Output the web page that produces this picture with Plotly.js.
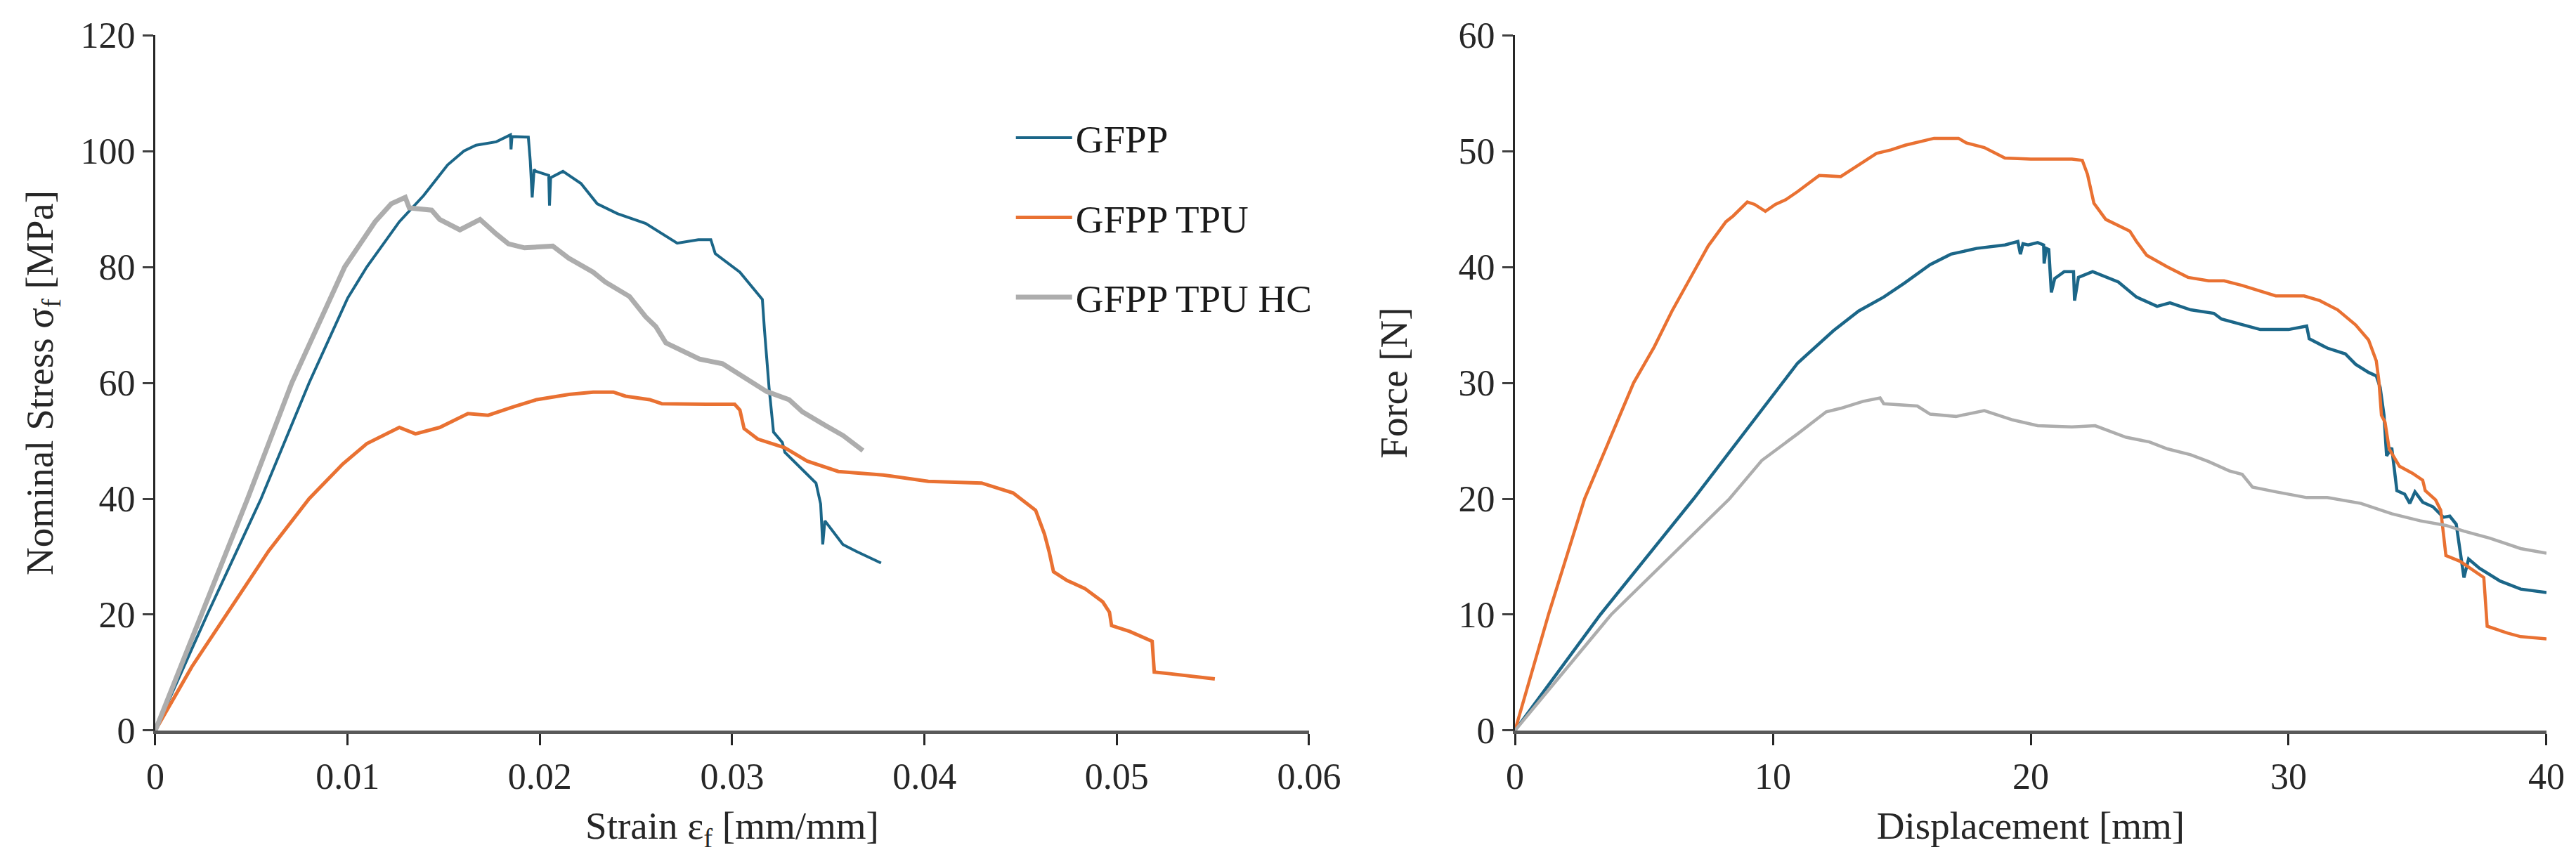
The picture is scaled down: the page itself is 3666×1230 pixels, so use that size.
<!DOCTYPE html>
<html>
<head>
<meta charset="utf-8">
<script src="https://cdn.plot.ly/plotly-3.0.1.min.js"></script>
<style>
  html, body { margin: 0; padding: 0; background: #fff; }
  #chart { width: 3666px; height: 1230px; }
</style>
</head>
<body>
<div id="chart"></div>
<script>
// left panel: nominal stress vs strain
var strainGFPP = [0, 0.0027, 0.0055, 0.0080, 0.0100, 0.0110, 0.01269, 0.01395, 0.0152, 0.01605, 0.01668, 0.01773, 0.01847, 0.0185, 0.01855, 0.0191, 0.0194, 0.0195, 0.0196, 0.0197, 0.0198, 0.02046, 0.0205, 0.02056, 0.0212, 0.02214, 0.02298, 0.02403, 0.0255, 0.02714, 0.02824, 0.02889, 0.02912, 0.0304, 0.0311, 0.03157, 0.03168, 0.03192, 0.03215, 0.03261, 0.03274, 0.03365, 0.03436, 0.0346, 0.03471, 0.03482, 0.03576, 0.03646, 0.03774];
var stressGFPP = [0, 20, 40, 60, 74.6, 80, 87.8, 92.3, 97.6, 100, 101, 101.6, 102.8, 100.3, 102.5, 102.4, 102.4, 98.3, 92, 96.8, 96.5, 95.8, 90.6, 95.4, 96.5, 94.4, 90.9, 89.2, 87.5, 84.1, 84.7, 84.7, 82.3, 79.1, 76.2, 74.4, 69.1, 59.1, 51.5, 49.7, 48, 45.1, 42.7, 39.1, 32.1, 36.2, 32.1, 30.9, 28.9];

var strainTPU = [0, 0.0019, 0.0037, 0.0059, 0.0080, 0.00975, 0.0110, 0.01185, 0.01269, 0.01353, 0.01479, 0.01626, 0.01731, 0.01857, 0.01983, 0.02151, 0.02277, 0.02382, 0.02445, 0.02571, 0.02634, 0.02866, 0.02971, 0.03013, 0.0304, 0.03062, 0.03133, 0.03273, 0.0339, 0.03552, 0.03785, 0.0402, 0.04297, 0.04461, 0.04578, 0.04624, 0.04648, 0.04671, 0.04741, 0.04834, 0.04927, 0.04962, 0.04973, 0.05067, 0.05184, 0.05195, 0.05276, 0.0551];
var stressTPU = [0, 11, 20, 31, 40, 46, 49.5, 50.9, 52.3, 51.2, 52.3, 54.7, 54.4, 55.8, 57.1, 58, 58.4, 58.4, 57.7, 57.1, 56.4, 56.3, 56.2, 56.3, 55.3, 52.1, 50.3, 48.8, 46.5, 44.7, 44.1, 43, 42.7, 41, 38, 33.9, 30.9, 27.4, 25.9, 24.5, 22.2, 20.4, 18.1, 17.1, 15.4, 10.1, 9.8, 8.9];

var strainHC = [0, 0.0024, 0.0048, 0.0071, 0.00985, 0.01143, 0.01227, 0.0130, 0.01321, 0.01437, 0.01479, 0.01584, 0.01689, 0.01773, 0.01836, 0.0192, 0.02067, 0.0215, 0.02277, 0.0234, 0.02466, 0.0255, 0.02603, 0.02655, 0.0275, 0.0283, 0.0295, 0.03087, 0.03179, 0.03296, 0.03365, 0.03482, 0.03577, 0.0368];
var stressHC = [0, 20, 40, 60, 80, 87.8, 90.9, 92, 90.2, 89.8, 88.2, 86.4, 88.2, 85.7, 84, 83.3, 83.6, 81.5, 79.1, 77.4, 74.9, 71.4, 69.7, 66.9, 65.3, 64.1, 63.3, 60.4, 58.5, 57.1, 55, 52.7, 50.9, 48.3];

// right panel: force vs displacement
var dispGFPP = [0, 3.31, 6.93, 10.4, 10.96, 12.35, 13.33, 14.3, 15.1, 16.1, 16.9, 17.9, 19.0, 19.5, 19.6, 19.7, 19.9, 20.27, 20.5, 20.52, 20.6, 20.7, 20.8, 20.93, 21.3, 21.66, 21.7, 21.85, 22.4, 23.4, 24.1, 24.9, 25.4, 26.2, 27.1, 27.4, 28.2, 28.9, 30.0, 30.7, 30.8, 31.5, 32.2, 32.6, 33.1, 33.4, 33.55, 33.7, 33.8, 34.0, 34.2, 34.5, 34.7, 34.9, 35.2, 35.6, 36.0, 36.25, 36.5, 36.65, 36.8, 36.98, 37.4, 38.2, 39.0, 40.0];
var forceGFPP = [0, 10, 20, 30, 31.7, 34.5, 36.2, 37.4, 38.6, 40.2, 41.1, 41.6, 41.9, 42.2, 41.1, 42.0, 41.9, 42.1, 41.9, 40.3, 41.6, 41.5, 37.8, 39.0, 39.6, 39.6, 37.1, 39.1, 39.6, 38.7, 37.4, 36.6, 36.9, 36.3, 36.0, 35.5, 35.0, 34.6, 34.6, 34.9, 33.8, 33.0, 32.5, 31.6, 30.9, 30.6, 29.6, 27.2, 23.7, 24.4, 20.7, 20.4, 19.6, 20.6, 19.7, 19.3, 18.4, 18.5, 17.8, 15.4, 13.2, 14.8, 14.0, 12.9, 12.2, 11.9];

var dispTPU = [0, 1.3, 2.7, 4.6, 5.4, 6.09, 6.79, 7.49, 8.18, 8.46, 9.01, 9.29, 9.71, 10.1, 10.5, 10.96, 11.8, 12.63, 13.19, 14.02, 14.58, 15.13, 16.25, 17.2, 17.5, 18.2, 19.0, 20.0, 21.6, 22.0, 22.2, 22.45, 22.91, 23.84, 24.1, 24.5, 25.3, 26.1, 26.9, 27.5, 28.2, 28.9, 29.5, 30.6, 31.2, 31.9, 32.6, 33.1, 33.4, 33.5, 33.6, 33.74, 33.9, 34.3, 34.8, 35.2, 35.3, 35.7, 35.9, 36.1, 36.65, 37.57, 37.7, 38.5, 39.0, 40.0];
var forceTPU = [0, 10, 20, 30, 33.1, 36.2, 39.0, 41.8, 43.9, 44.4, 45.6, 45.4, 44.8, 45.4, 45.8, 46.5, 47.9, 47.8, 48.6, 49.8, 50.1, 50.5, 51.1, 51.1, 50.7, 50.3, 49.4, 49.3, 49.3, 49.2, 48.0, 45.5, 44.1, 43.1, 42.2, 41.0, 40.0, 39.1, 38.8, 38.8, 38.4, 37.9, 37.5, 37.5, 37.1, 36.3, 35.0, 33.7, 31.9, 30.2, 27.2, 26.6, 24.3, 22.8, 22.2, 21.6, 20.7, 19.9, 19.0, 15.1, 14.6, 13.2, 9.0, 8.4, 8.1, 7.9];

var dispHC = [0, 3.73, 8.32, 9.57, 10.96, 12.07, 12.63, 13.5, 14.16, 14.3, 15.6, 16.1, 17.1, 18.2, 19.3, 20.27, 21.6, 22.5, 23.7, 24.6, 25.3, 26.2, 26.9, 27.7, 28.2, 28.6, 29.5, 30.7, 31.5, 32.8, 34.0, 35.1, 36.1, 36.8, 37.8, 39.0, 40.0];
var forceHC = [0, 10, 20, 23.3, 25.6, 27.5, 27.8, 28.4, 28.7, 28.2, 28.0, 27.3, 27.1, 27.6, 26.8, 26.3, 26.2, 26.3, 25.3, 24.9, 24.3, 23.8, 23.2, 22.4, 22.1, 21.0, 20.6, 20.1, 20.1, 19.6, 18.7, 18.1, 17.7, 17.2, 16.6, 15.7, 15.3];

var seriesNames = ["GFPP", "GFPP TPU", "GFPP TPU HC"];
var seriesColors = ["#1b6688", "#e97132", "#adadad"];

var FONT = "Liberation Serif, Times New Roman, serif";

var data = [
  { x: strainGFPP, y: stressGFPP, name: seriesNames[0], legendgroup: "a",
    line: { color: seriesColors[0], width: 4 } },
  { x: strainTPU, y: stressTPU, name: seriesNames[1], legendgroup: "b",
    line: { color: seriesColors[1], width: 5 } },
  { x: strainHC, y: stressHC, name: seriesNames[2], legendgroup: "c",
    line: { color: seriesColors[2], width: 7 } },
  { x: dispGFPP, y: forceGFPP, name: seriesNames[0], legendgroup: "a", showlegend: false,
    xaxis: "x2", yaxis: "y2", line: { color: seriesColors[0], width: 4.5 } },
  { x: dispTPU, y: forceTPU, name: seriesNames[1], legendgroup: "b", showlegend: false,
    xaxis: "x2", yaxis: "y2", line: { color: seriesColors[1], width: 4.5 } },
  { x: dispHC, y: forceHC, name: seriesNames[2], legendgroup: "c", showlegend: false,
    xaxis: "x2", yaxis: "y2", line: { color: seriesColors[2], width: 4.5 } }
];
data.forEach(function (t) { t.type = "scatter"; t.mode = "lines"; t.hoverinfo = "none"; });

function xAxis(domain, range, dtick, title, anchor) {
  return {
    domain: domain, range: range, dtick: dtick, tick0: 0, anchor: anchor,
    showgrid: false, zeroline: false,
    showline: true, linecolor: "#595959", linewidth: 5,
    ticks: "outside", ticklen: 16, tickwidth: 3, tickcolor: "#262626",
    tickfont: { family: FONT, size: 52, color: "#262626" },
    title: { text: title, standoff: 24, font: { family: FONT, size: 55, color: "#262626" } }
  };
}
function yAxis(range, dtick, title, anchor, standoff) {
  return {
    domain: [0.1545, 0.9593], range: range, dtick: dtick, tick0: 0, anchor: anchor,
    showgrid: false, zeroline: false,
    showline: true, linecolor: "#262626", linewidth: 3,
    ticks: "outside", ticklen: 15, tickwidth: 3, tickcolor: "#404040",
    tickfont: { family: FONT, size: 52, color: "#262626" },
    title: { text: title, standoff: standoff, font: { family: FONT, size: 55, color: "#262626" } }
  };
}

var layout = {
  width: 3666, height: 1230,
  margin: { l: 0, r: 0, t: 0, b: 0 },
  paper_bgcolor: "#ffffff", plot_bgcolor: "#ffffff",
  font: { family: FONT, color: "#262626" },
  showlegend: true,
  legend: {
    x: 0.393, y: 0.875, xanchor: "left", yanchor: "top",
    traceorder: "grouped", tracegroupgap: 39,
    bgcolor: "rgba(0,0,0,0)", itemwidth: 80,
    font: { family: FONT, size: 55, color: "#1a1a1a" }
  },
  xaxis: xAxis([0.06028, 0.50818], [0, 0.06], 0.01, "Strain ε<sub>f</sub> [mm/mm]", "y"),
  yaxis: yAxis([0, 120], 20, "Nominal Stress σ<sub>f</sub> [MPa]", "x", 22),
  xaxis2: xAxis([0.58811, 0.98854], [0, 40], 10, "Displacement [mm]", "y2"),
  yaxis2: yAxis([0, 60], 10, "Force [N]", "x2", 56)
};

Plotly.newPlot("chart", data, layout, { displayModeBar: false, staticPlot: true });
</script>
</body>
</html>
